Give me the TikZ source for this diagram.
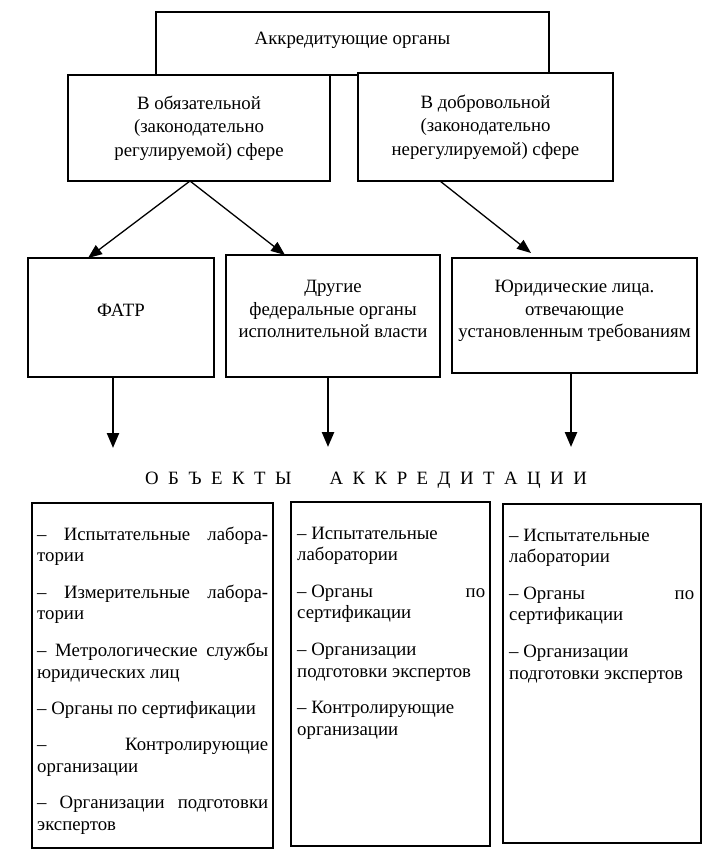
\documentclass[tikz,border=0pt]{standalone}
\usepackage{fontspec}
\setmainfont{Liberation Serif}
\usetikzlibrary{arrows.meta}
\newcommand\lsp{\hspace{9.5pt}}
\begin{document}
\begin{tikzpicture}[x=1pt,y=-1pt,
  box/.style={draw=black,line width=1.5pt,fill=white,inner sep=0pt,align=center,
    font=\fontsize{18.8}{23.5}\selectfont},
  txt/.style={inner sep=0pt,align=center,font=\fontsize{18.8}{22.5}\selectfont},
  list/.style={inner sep=0pt,anchor=base west,font=\fontsize{18.8}{21.8}\selectfont},
  diag/.style={line width=1.3pt,-{Triangle[length=14pt,width=11pt]}},
  down/.style={line width=2.4pt,-{Triangle[length=15pt,width=12pt]}}]
\useasboundingbox[fill=white] (0,0) rectangle (709,859);
% top
\node[box,minimum width=393pt,minimum height=63pt] (top) at (352.5,43.5) {};
\node[txt] (topT) at (352.5,40) {Аккредитующие органы};
\node[box,minimum width=262pt,minimum height=106pt] (obl) at (199,128)
  {В обязательной\\(законодательно\\регулируемой) сфере};
\node[box,minimum width=255pt,minimum height=108pt] (dob) at (485.5,127)
  {В добровольной\\(законодательно\\нерегулируемой) сфере};
% row 3
\node[box,minimum width=186pt,minimum height=119pt] (fatr) at (121,317.5) {};
\node[txt] (fatrT) at (121,310) {ФАТР};
\node[box,minimum width=214pt,minimum height=122pt] (dr) at (333,316) {};
\node[txt] (drT) at (333,309) {Другие\\федеральные органы\\исполнительной власти};
\node[box,minimum width=245pt,minimum height=115pt] (jur) at (574.5,315.5) {};
\node[txt] (jurT) at (574.5,311) {Юридические лица.\\отвечающие\\установленным требованиям};
% diagonal arrows
\coordinate (s1) at (190,181);
\coordinate (s2) at (440,181);
\coordinate (e1) at (88,258);
\coordinate (e2) at (285,255);
\coordinate (e3) at (531,253);
\draw[diag] (s1) -- (e1);
\draw[diag] (s1) -- (e2);
\draw[diag] (s2) -- (e3);
% down arrows
\coordinate (d1) at (113,448);
\coordinate (d2) at (328,447);
\coordinate (d3) at (571,447);
\draw[down] (fatr.south -| d1) -- (d1);
\draw[down] (dr.south -| d2) -- (d2);
\draw[down] (jur.south -| d3) -- (d3);
% heading
\node[txt] (head) at (366,480) {О\lsp Б\lsp Ъ\lsp Е\lsp К\lsp Т\lsp Ы\hspace{38pt}А\lsp К\lsp К\lsp Р\lsp Е\lsp Д\lsp И\lsp Т\lsp А\lsp Ц\lsp И\lsp И};
% bottom boxes
\node[box,minimum width=241pt,minimum height=345pt] (b1) at (152.5,675.5) {};
\node[box,minimum width=199pt,minimum height=344pt] (b2) at (390.5,674) {};
\node[box,minimum width=198pt,minimum height=339pt] (b3) at (602,673.5) {};
\node[list] (l1) at (37,540) {\parbox[t]{231pt}{\setlength\parskip{14.5pt}\setlength\parindent{0pt}%
–\hfill Испытательные\hfill лабора-\\тории\par
–\hfill Измерительные\hfill лабора-\\тории\par
–\hfill Метрологические\hfill службы\\юридических лиц\par
– Органы по сертификации\par
–\hfill Контролирующие\\организации\par
–\hfill Организации\hfill подготовки\\экспертов}};
\node[list] (l2) at (297,539) {\parbox[t]{188pt}{\setlength\parskip{14.5pt}\setlength\parindent{0pt}%
– Испытательные\\лаборатории\par
– Органы\hfill по\\сертификации\par
– Организации\\подготовки экспертов\par
– Контролирующие\\организации}};
\node[list] (l3) at (509,541) {\parbox[t]{185pt}{\setlength\parskip{14.5pt}\setlength\parindent{0pt}%
– Испытательные\\лаборатории\par
– Органы\hfill по\\сертификации\par
– Организации\\подготовки экспертов}};
\end{tikzpicture}
\end{document}
